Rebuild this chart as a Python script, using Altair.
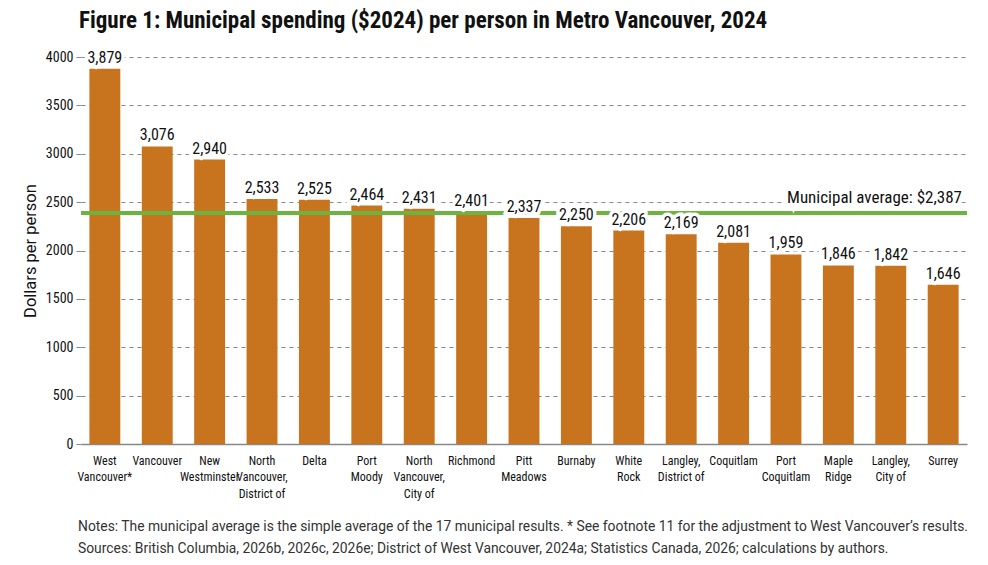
import altair as alt
import pandas as pd

# ---- data ----
municipalities = [
    "West|Vancouver*", "Vancouver", "New|Westminster", "North|Vancouver,|District of",
    "Delta", "Port|Moody", "North|Vancouver,|City of", "Richmond", "Pitt|Meadows",
    "Burnaby", "White|Rock", "Langley,|District of", "Coquitlam", "Port|Coquitlam",
    "Maple|Ridge", "Langley,|City of", "Surrey",
]
spending = [3879, 3076, 2940, 2533, 2525, 2464, 2431, 2401, 2337,
            2250, 2206, 2169, 2081, 1959, 1846, 1842, 1646]
average = 2387
average_label = "Municipal average: $2,387"
y_ticks = [0, 500, 1000, 1500, 2000, 2500, 3000, 3500, 4000]
title_text = "Figure 1: Municipal spending ($2024) per person in Metro Vancouver, 2024"
notes_text = (
    "Notes: The municipal average is the simple average of the 17 municipal results. "
    "* See footnote 11 for the adjustment to West Vancouver\u2019s results.\n"
    "Sources: British Columbia, 2026b, 2026c, 2026e; District of West Vancouver, 2024a; "
    "Statistics Canada, 2026; calculations by authors."
)

NARROW = "Roboto Condensed, Liberation Sans Narrow, Arial Narrow, DejaVu Sans Condensed, sans-serif"
BAR = "#C8741F"
GREEN = "#6DB33F"

df = pd.DataFrame({"m": municipalities, "v": spending})
df["label"] = [f"{v:,}" for v in spending]
avg_df = pd.DataFrame({"avg": [average], "label": [average_label]})
notes_df = pd.DataFrame({"t": [notes_text]})

x = alt.X(
    "m:N", sort=None, title=None,
    scale=alt.Scale(paddingInner=0.41, paddingOuter=0.16),
    axis=alt.Axis(
        labelAngle=0, labelExpr="split(datum.label, '|')", ticks=False,
        domainColor="#888", domainWidth=1.5, labelFont=NARROW, labelFontSize=12,
        labelColor="#111", labelPadding=11, labelBaseline="top", labelLineHeight=16.5,
        labelOverlap=False,
    ),
)
y = alt.Y(
    "v:Q", scale=alt.Scale(domain=[0, 4000]), title="Dollars per person",
    axis=alt.Axis(
        values=y_ticks, format="d", grid=True, gridDash=[4, 4], gridColor="#888",
        domain=False, tickColor="#888", tickSize=5, labelFont=NARROW,
        labelFontSize=14, labelColor="#111", labelPadding=3,
        titleFont="Roboto", titleFontSize=16.5, titleFontWeight="normal",
        titleColor="#111", titlePadding=7,
    ),
)

base = alt.Chart(df)
bars = base.mark_bar(color=BAR).encode(x=x, y=y)

avg_rule = alt.Chart(avg_df).mark_rule(color=GREEN, strokeWidth=4).encode(y="avg:Q")

label_style = dict(baseline="bottom", dy=-3, font=NARROW, fontSize=16)
value_halo = base.mark_text(stroke="white", strokeWidth=7, color="white", **label_style).encode(
    x=x, y=y, text="label:N")
value_text = base.mark_text(color="#111", **label_style).encode(x=x, y=y, text="label:N")

avg_style = dict(align="right", baseline="bottom", dy=-6, font=NARROW, fontSize=17)
avg_halo = alt.Chart(avg_df).mark_text(stroke="white", strokeWidth=8, color="white", **avg_style).encode(
    y="avg:Q", x=alt.value(881), text="label:N")
avg_text = alt.Chart(avg_df).mark_text(color="#111", **avg_style).encode(
    y="avg:Q", x=alt.value(881), text="label:N")

notes = alt.Chart(notes_df).mark_text(
    align="left", baseline="top", lineBreak="\n", lineHeight=21.5,
    font="Roboto", fontSize=13.85, color="#333",
).encode(x=alt.value(-3), y=alt.value(463), text="t:N")

chart = alt.layer(
    bars, avg_rule, value_halo, value_text, avg_halo, avg_text, notes
).properties(
    width=886, height=387,
    title=alt.TitleParams(
        title_text, anchor="start", frame="group", font=NARROW, fontSize=23,
        fontWeight="bold", color="#111", dx=-2, offset=17,
    ),
    autosize=alt.AutoSizeParams(type="none"),
    padding={"left": 73, "top": 49, "right": 11, "bottom": 113},
).configure_view(stroke=None)

chart.save("out.html", embed_options={"renderer": "svg", "actions": False})
